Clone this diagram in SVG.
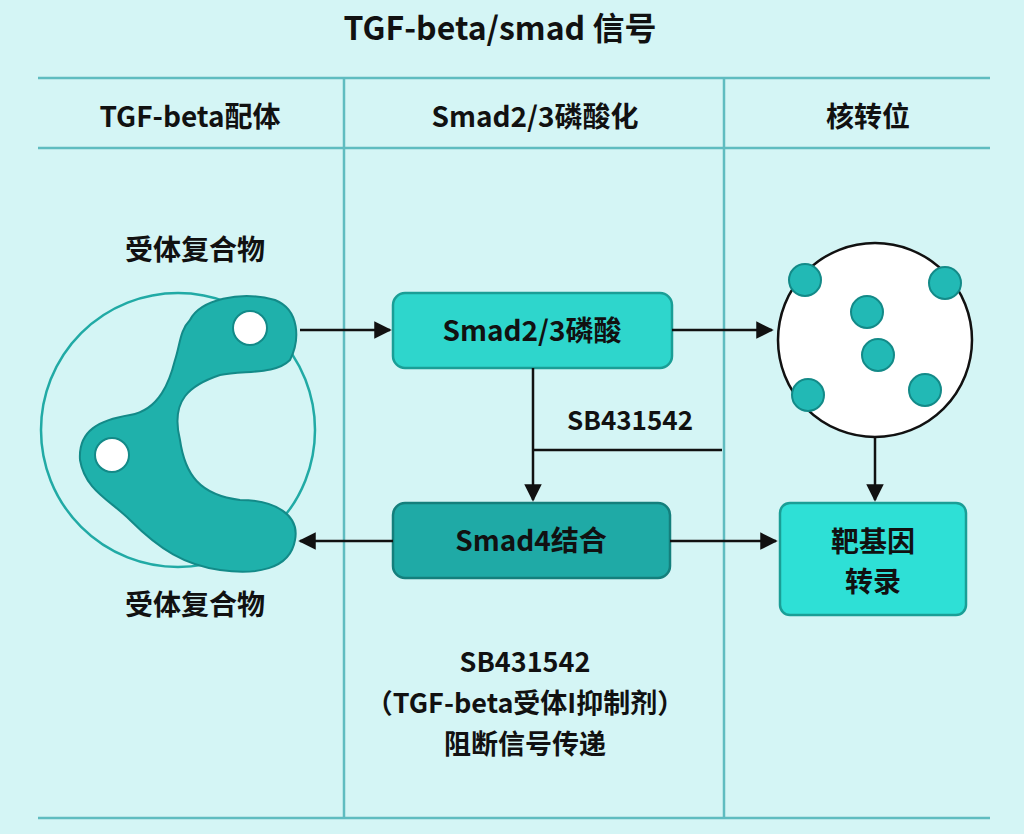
<svg xmlns="http://www.w3.org/2000/svg" width="1024" height="834" viewBox="0 0 1024 834">
<defs>
<style>
text{font-family:"Noto Sans CJK SC","Liberation Sans",sans-serif;fill:#111;text-anchor:middle;font-weight:bold}
.hd{font-size:28px}
.lbl{font-size:28px}
.grid{stroke:#5fbcc0;stroke-width:2.5;fill:none}
.con{stroke:#111;stroke-width:2.5;fill:none}
.dot{fill:#22b9b5;stroke:#138a88;stroke-width:2}
</style>
<marker id="ah" viewBox="0 0 10 10" refX="9" refY="5" markerWidth="7" markerHeight="7" orient="auto"><path d="M0,0L10,5L0,10z" fill="#111"/></marker>
</defs>
<rect width="1024" height="834" fill="#d4f5f5"/>
<text x="500" y="40" style="font-size:32px">TGF-beta/smad 信号</text>
<g class="grid">
<line x1="38" y1="78" x2="990" y2="78"/>
<line x1="38" y1="148" x2="990" y2="148"/>
<line x1="38" y1="818" x2="990" y2="818"/>
<line x1="344" y1="78" x2="344" y2="818"/>
<line x1="724" y1="78" x2="724" y2="818"/>
</g>
<text class="hd" x="190" y="127">TGF-beta配体</text>
<text class="hd" x="535" y="127">Smad2/3磷酸化</text>
<text class="hd" x="868" y="127">核转位</text>
<g id="receptor">
<circle cx="178" cy="430" r="137" fill="none" stroke="#21aaa5" stroke-width="2.5"/>
<path d="M190,320 C200,300 240,290 275,300 C300,310 300,340 290,360 C275,375 245,370 220,375 C190,385 170,400 180,440 C185,475 200,495 240,500 C275,500 300,515 295,540 C290,570 255,575 220,570 C185,565 160,550 130,520 C110,500 85,490 80,460 C78,430 100,420 130,415 C160,410 170,380 175,360 C180,345 180,330 190,320 Z" fill="#1fb1ab" stroke="#138a88" stroke-width="2"/>
<circle cx="250" cy="328" r="17" fill="#fff" stroke="#138a88" stroke-width="2"/>
<circle cx="112" cy="455" r="17" fill="#fff" stroke="#138a88" stroke-width="2"/>
<text class="lbl" x="195" y="260">受体复合物</text>
<text class="lbl" x="195" y="615">受体复合物</text>
</g>
<g id="smad23">
<rect x="393" y="293" width="279" height="75" rx="12" fill="#2ed6cc" stroke="#1a9e96" stroke-width="2.5"/>
<text class="lbl" x="532" y="341">Smad2/3磷酸</text>
</g>
<g id="smad4">
<rect x="393" y="503" width="277" height="75" rx="12" fill="#1faaa6" stroke="#147f7c" stroke-width="2.5"/>
<text class="lbl" x="531" y="551">Smad4结合</text>
</g>
<g id="nucleus">
<circle cx="875" cy="340" r="97" fill="#fff" stroke="#111" stroke-width="2.5"/>
<circle class="dot" cx="805" cy="280" r="16"/>
<circle class="dot" cx="945" cy="283" r="16"/>
<circle class="dot" cx="867" cy="312" r="16"/>
<circle class="dot" cx="878" cy="355" r="16"/>
<circle class="dot" cx="808" cy="395" r="16"/>
<circle class="dot" cx="925" cy="390" r="16"/>
</g>
<g id="target">
<rect x="780" y="503" width="186" height="112" rx="10" fill="#2ee0d6" stroke="#1a9e96" stroke-width="2.5"/>
<text class="lbl" x="873" y="552">靶基因</text>
<text class="lbl" x="873" y="592">转录</text>
</g>
<g id="connectors">
<line class="con" x1="300" y1="330" x2="390" y2="330" marker-end="url(#ah)"/>
<line class="con" x1="672" y1="330" x2="772" y2="330" marker-end="url(#ah)"/>
<line class="con" x1="533" y1="368" x2="533" y2="500" marker-end="url(#ah)"/>
<line class="con" x1="533" y1="450" x2="722" y2="450"/>
<line class="con" x1="393" y1="541" x2="300" y2="541" marker-end="url(#ah)"/>
<line class="con" x1="670" y1="541" x2="776" y2="541" marker-end="url(#ah)"/>
<line class="con" x1="875" y1="437" x2="875" y2="500" marker-end="url(#ah)"/>
</g>
<text x="630" y="430" style="font-size:26px">SB431542</text>
<text x="525" y="672" style="font-size:27px">SB431542</text>
<text x="525" y="713" style="font-size:27px">（TGF-beta受体I抑制剂）</text>
<text x="525" y="754" style="font-size:27px">阻断信号传递</text>
</svg>
